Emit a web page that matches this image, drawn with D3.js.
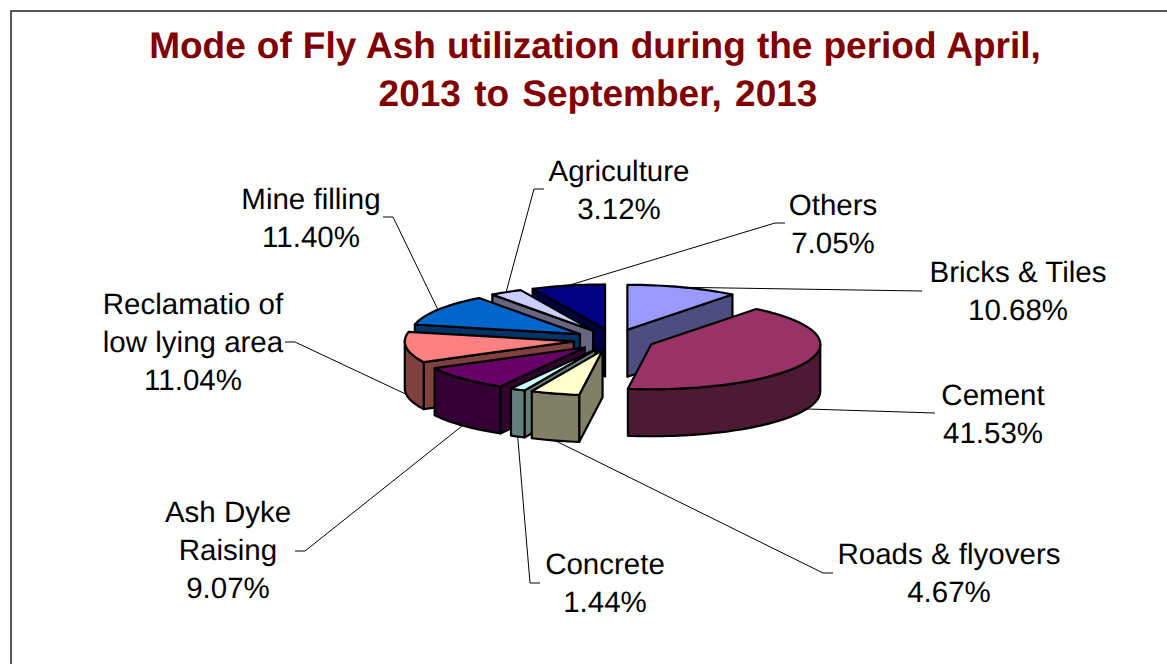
<!DOCTYPE html>
<html>
<head>
<meta charset="utf-8">
<script src="https://cdn.jsdelivr.net/npm/d3@7"></script>
<style>
  html, body { margin: 0; padding: 0; background: #fff; overflow: hidden; }
  text { font-family: "Liberation Sans", Arial, sans-serif; text-rendering: geometricPrecision; }
</style>
</head>
<body>
<div id="chart"></div>
<script>
const categories = ["Bricks & Tiles", "Cement", "Roads & flyovers", "Concrete", "Ash Dyke Raising",
  "Reclamatio of low lying area", "Mine filling", "Agriculture", "Others"];
const values = [10.68, 41.53, 4.67, 1.44, 9.07, 11.04, 11.40, 3.12, 7.05];
const colors = ["#9999ff", "#993366", "#ffffcc", "#ccffff", "#660066", "#ff8080", "#0066cc", "#ccccff", "#000080"];

// label layout: text lines, anchor centre x, first baseline, leader end points
const labelLines = [
  ["Bricks & Tiles"], ["Cement"], ["Roads & flyovers"], ["Concrete"], ["Ash Dyke", "Raising"],
  ["Reclamatio of", "low lying area"], ["Mine filling"], ["Agriculture"], ["Others"]
];
const labelX = [1018, 993, 949, 605, 228, 193, 311, 619, 833];
const labelY = [282, 405, 564, 574, 522, 314, 209, 181, 215];
const leaderEnds = [
  [[922, 291]], [[935, 413]], [[823, 573], [833, 573]], [[530, 583], [540, 583]], [[305, 551], [295, 551]],
  [[295, 342], [285, 342]], [[393, 217], [383, 217]], [[534, 189], [544, 189]], [[775, 223], [785, 223]]
];

const width = 1167, height = 664;
const cx = 614, cy = 340, rx = 169, ry = 45, depth = 47, explode = 0.24;

const svg = d3.select("#chart").append("svg")
  .attr("width", width)
  .attr("height", height);

// frame
svg.append("path")
  .attr("d", `M11,${height}V11H${width}`)
  .attr("fill", "none")
  .attr("stroke", "#222")
  .attr("stroke-width", 1.5);

// title
svg.append("text")
  .attr("x", 595).attr("y", 58)
  .attr("text-anchor", "middle")
  .attr("font-size", 37).attr("font-weight", "bold")
  .attr("word-spacing", 0.8)
  .attr("fill", "#800000")
  .text("Mode of Fly Ash utilization during the period April,");
svg.append("text")
  .attr("x", 598).attr("y", 106)
  .attr("text-anchor", "middle")
  .attr("font-size", 37).attr("font-weight", "bold")
  .attr("word-spacing", 3)
  .attr("fill", "#800000")
  .text("2013 to September, 2013");

// unit circle tilted onto the screen
const x = d3.scaleLinear().domain([-1, 1]).range([cx - rx, cx + rx]);
const y = d3.scaleLinear().domain([-1, 1]).range([cy - ry, cy + ry]);

const slices = d3.pie().sort(null).value(d => d.value)(
  categories.map((name, i) => ({name, value: values[i], color: colors[i], index: i}))
);

const line = d3.line().x(d => d[0]).y(d => d[1]);

slices.forEach(s => {
  s.mid = (s.startAngle + s.endAngle) / 2;
  s.dx = x(explode * Math.sin(s.mid)) - cx;
  s.dy = y(-explode * Math.cos(s.mid)) - cy;
  s.side = d3.rgb(s.data.color);
  s.side = d3.rgb(s.side.r / 2, s.side.g / 2, s.side.b / 2);
});

function point(s, a, r = 1, drop = 0) {
  return [x(r * Math.sin(a)) + s.dx, y(-r * Math.cos(a)) + s.dy + drop];
}

function arcPoints(s, a0, a1, drop = 0) {
  const n = Math.max(2, Math.ceil((a1 - a0) / 0.03));
  return d3.range(n + 1).map(i => point(s, a0 + (a1 - a0) * i / n, 1, drop));
}

function wall(s, a) {
  const apex = point(s, 0, 0);
  return [apex, point(s, a), point(s, a, 1, depth), [apex[0], apex[1] + depth]];
}

// back to front
const order = slices.slice().sort((a, b) => d3.descending(Math.cos(a.mid), Math.cos(b.mid)));

const g = svg.append("g")
  .attr("stroke", "#000")
  .attr("stroke-width", 2.2)
  .attr("stroke-linejoin", "round");

order.forEach(s => {
  const parts = [];
  if (Math.sin(s.startAngle) < 0) parts.push(wall(s, s.startAngle));
  if (Math.sin(s.endAngle) > 0) parts.push(wall(s, s.endAngle));
  // outer wall, front half only
  const a0 = Math.max(s.startAngle, Math.PI / 2), a1 = Math.min(s.endAngle, Math.PI * 1.5);
  if (a1 > a0) parts.push(arcPoints(s, a0, a1).concat(arcPoints(s, a0, a1, depth).reverse()));

  g.selectAll(null)
    .data(parts)
    .enter().append("path")
      .attr("d", d => line(d) + "Z")
      .attr("fill", s.side);

  g.append("path")
    .attr("d", line([point(s, 0, 0)].concat(arcPoints(s, s.startAngle, s.endAngle))) + "Z")
    .attr("fill", s.data.color);
});

// leaders and labels
const leaders = svg.append("g")
  .attr("fill", "none")
  .attr("stroke", "#000")
  .attr("stroke-width", 1);

slices.forEach((s, i) => {
  // start on the top rim at the back, on the bottom of the outer wall at the front
  const drop = Math.cos(s.mid) < 0 ? depth : 0;
  leaders.append("path").attr("d", line([point(s, s.mid, 1, drop)].concat(leaderEnds[i])));

  const t = svg.append("text")
    .attr("text-anchor", "middle")
    .attr("font-size", 29.5)
    .attr("fill", "#000");
  const lines = labelLines[i].concat([d3.format(".2f")(s.data.value) + "%"]);
  lines.forEach((txt, j) => {
    t.append("tspan")
      .attr("x", labelX[i])
      .attr("y", labelY[i] + j * 38)
      .text(txt);
  });
});
</script>
</body>
</html>
